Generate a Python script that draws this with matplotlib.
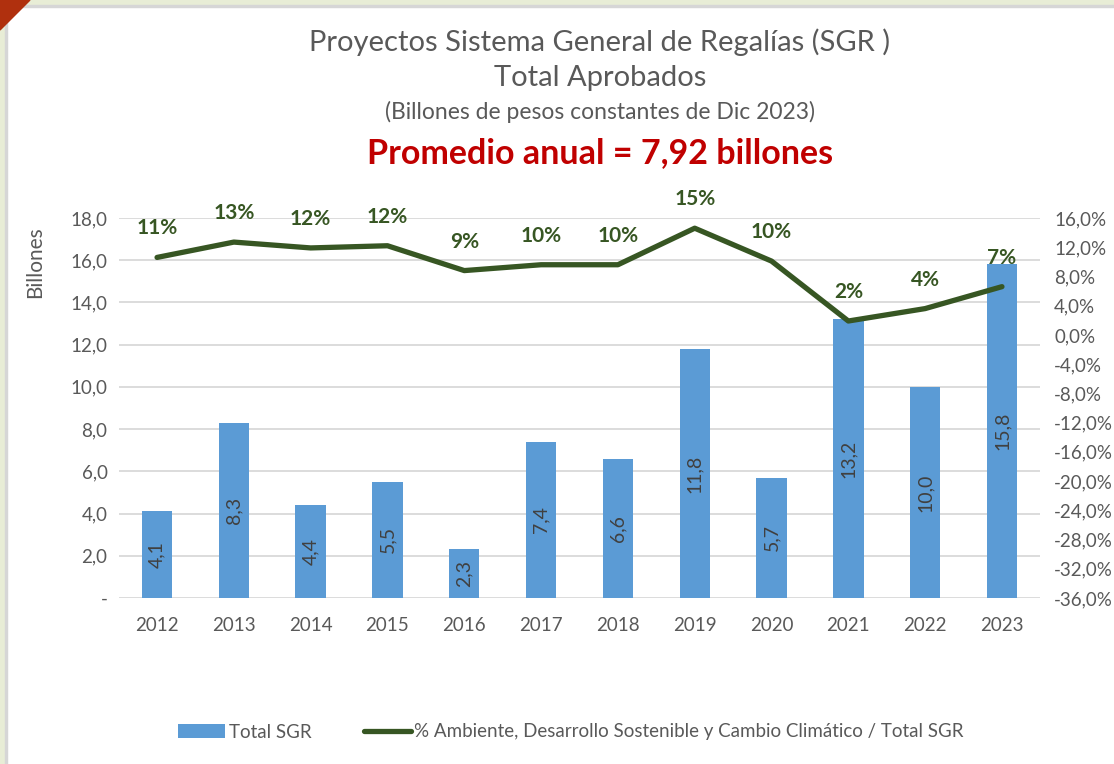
import numpy as np
import matplotlib.pyplot as plt
from matplotlib.patches import Rectangle, Polygon

# Datos del grafico
years = ["2012", "2013", "2014", "2015", "2016", "2017", "2018", "2019", "2020", "2021", "2022", "2023"]
total_sgr = [4.1, 8.3, 4.4, 5.5, 2.3, 7.4, 6.6, 11.8, 5.7, 13.2, 10.0, 15.8]
pct_ambiente = [10.6, 12.7, 11.9, 12.2, 8.8, 9.6, 9.6, 14.6, 10.1, 1.9, 3.6, 6.6]
pct_labels = ["11%", "13%", "12%", "12%", "9%", "10%", "10%", "15%", "10%", "2%", "4%", "7%"]
left_ticks = [0, 2, 4, 6, 8, 10, 12, 14, 16, 18]
right_ticks = list(range(-36, 17, 4))

plt.rcParams['font.family'] = ['Lato', 'DejaVu Sans']

BLUE = "#5B9BD5"
GREEN = "#375623"
GRAY = "#595959"
GRID = "#D9D9D9"

fig = plt.figure(figsize=(11.14, 7.64), dpi=100)
fig.patch.set_facecolor("white")

# Marco exterior (fondo de la diapositiva)
W, H = 1114, 764
def px(x, y, w, h, **kw):
    fig.patches.append(Rectangle((x / W, 1 - (y + h) / H), w / W, h / H,
                                 transform=fig.transFigure, **kw))
px(0, 0, W, 6, color="#E8EDD6", zorder=0)
px(0, 0, 5, H, color="#E8EDD6", zorder=0)
px(5, 5, W, 2, color="#D6D6D6", zorder=0)
px(5, 5, 2, H, color="#D6D6D6", zorder=0)
fig.patches.append(Polygon([(0, 1), (30 / W, 1), (0, 1 - 30 / H)], closed=True,
                           transform=fig.transFigure, color="#B0300E", zorder=1))

ax = fig.add_axes([0.1065, 0.2173, 0.8274, 0.4974])
x = np.arange(len(years))

bars = ax.bar(x, total_sgr, width=0.395, color=BLUE, zorder=2, label="Total SGR")
for xi, v in zip(x, total_sgr):
    ax.text(xi, v / 2, f"{v:.1f}".replace(".", ","), rotation=90, ha="center", va="center",
            fontsize=14, color="#404040", zorder=3)

ax.set_xlim(-0.5, len(years) - 0.5)
ax.set_ylim(0, 18)
ax.set_yticks(left_ticks)
ax.set_yticklabels(["-"] + [f"{t:.1f}".replace(".", ",") for t in left_ticks[1:]])
ax.set_xticks(x)
ax.set_xticklabels(years)
ax.tick_params(axis="both", length=0, labelsize=13.5, colors=GRAY)
ax.tick_params(axis="x", pad=14)
ax.tick_params(axis="y", pad=8)
ax.grid(axis="y", color=GRID, linewidth=1.3, zorder=0)
ax.set_axisbelow(True)
for s in ax.spines.values():
    s.set_visible(False)

fig.text(35 / W, 1 - 262 / H, "Billones", rotation=90, ha="center", va="center",
         fontsize=15, color=GRAY)

ax2 = ax.twinx()
line, = ax2.plot(x, pct_ambiente, color=GREEN, linewidth=3.8, solid_capstyle="round",
                 solid_joinstyle="round", zorder=4,
                 label="% Ambiente, Desarrollo Sostenible y Cambio Climático / Total SGR")
for xi, v, lab in zip(x, pct_ambiente, pct_labels):
    ax2.annotate(lab, (xi, v), xytext=(0, 29), textcoords="offset pixels",
                 ha="center", va="center", fontsize=15, fontweight="bold", color=GREEN)
ax2.set_ylim(-36, 16)
ax2.set_yticks(right_ticks)
ax2.set_yticklabels([f"{t:.1f}%".replace(".", ",") for t in right_ticks])
ax2.tick_params(axis="y", length=0, labelsize=13.5, colors=GRAY, pad=10)
for s in ax2.spines.values():
    s.set_visible(False)

# Titulos
fig.text(600 / W, 1 - 42 / H, "Proyectos Sistema General de Regalías (SGR )", ha="center",
         va="center", fontsize=21, color=GRAY)
fig.text(600 / W, 1 - 78 / H, "Total Aprobados", ha="center", va="center",
         fontsize=21, color=GRAY)
fig.text(600 / W, 1 - 112 / H, "(Billones de pesos constantes de Dic 2023)", ha="center",
         va="center", fontsize=16.5, color=GRAY)
fig.text(600 / W, 1 - 153 / H, "Promedio anual = 7,92 billones", ha="center", va="center",
         fontsize=24.5, fontweight="bold", color="#C00000")

# Leyenda
fig.legend(handles=[bars, line], loc="center", bbox_to_anchor=(571 / W, 1 - 732 / H),
           ncol=2, frameon=False, fontsize=13.5, labelcolor=GRAY, handlelength=2.5,
           handleheight=0.8, columnspacing=2.8, handletextpad=0.2)

fig.savefig("out.png", dpi=100)
